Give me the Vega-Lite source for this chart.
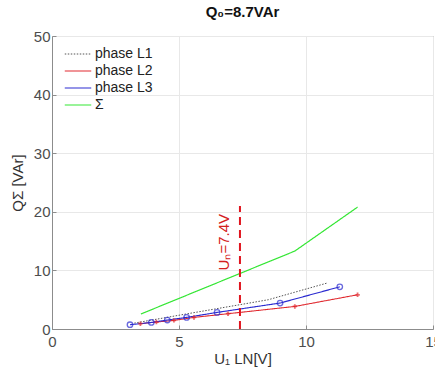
{
  "$schema": "https://vega.github.io/schema/vega-lite/v6.json",
  "width": 381,
  "height": 293,
  "autosize": {"type": "none"},
  "padding": {"left": 52, "top": 36, "right": 2, "bottom": 43},
  "background": "white",
  "config": {
    "font": "Liberation Sans",
    "view": {"stroke": "#8c8c8c", "strokeWidth": 1},
    "axis": {
      "domainColor": "#8c8c8c",
      "tickColor": "#8c8c8c",
      "gridColor": "#e8e8e8",
      "labelColor": "#4d4d4d",
      "labelFontSize": 15,
      "titleColor": "#333333",
      "titleFontSize": 15,
      "titleFontWeight": "normal",
      "tickSize": -4,
      "labelFlush": false
    }
  },
  "title": {"text": "Q₀=8.7VAr", "fontSize": 15, "fontWeight": "bold", "color": "#111111", "offset": 9},
  "datasets": {
    "lines": [
      {"u": 3.24, "q": 1.0, "s": "phase L1"},
      {"u": 5.0, "q": 2.35, "s": "phase L1"},
      {"u": 7.4, "q": 4.15, "s": "phase L1"},
      {"u": 8.52, "q": 5.0, "s": "phase L1"},
      {"u": 10.83, "q": 7.84, "s": "phase L1"},
      {"u": 3.48, "q": 0.9, "s": "phase L2"},
      {"u": 4.11, "q": 1.19, "s": "phase L2"},
      {"u": 4.8, "q": 1.47, "s": "phase L2"},
      {"u": 5.59, "q": 1.98, "s": "phase L2"},
      {"u": 6.93, "q": 2.61, "s": "phase L2"},
      {"u": 9.56, "q": 3.85, "s": "phase L2"},
      {"u": 12.03, "q": 5.84, "s": "phase L2"},
      {"u": 3.07, "q": 0.73, "s": "phase L3"},
      {"u": 3.91, "q": 1.12, "s": "phase L3"},
      {"u": 4.54, "q": 1.53, "s": "phase L3"},
      {"u": 5.3, "q": 1.98, "s": "phase L3"},
      {"u": 6.5, "q": 2.83, "s": "phase L3"},
      {"u": 8.98, "q": 4.43, "s": "phase L3"},
      {"u": 11.33, "q": 7.2, "s": "phase L3"},
      {"u": 3.5, "q": 2.56, "s": "Σ"},
      {"u": 7.34, "q": 9.37, "s": "Σ"},
      {"u": 9.56, "q": 13.3, "s": "Σ"},
      {"u": 12.03, "q": 20.8, "s": "Σ"}
    ],
    "rule": [{"u": 7.4, "q0": 0, "q1": 21}],
    "label": [{"u": 6.78, "q": 10, "t": "Uₙ=7.4V"}]
  },
  "layer": [
    {
      "data": {"name": "lines"},
      "mark": {"type": "line", "clip": true},
      "encoding": {
        "x": {"field": "u", "type": "quantitative", "scale": {"domain": [0, 15], "nice": false}, "axis": {"values": [0, 5, 10, 15], "title": "U₁ LN[V]", "titlePadding": 2, "labelPadding": 9}},
        "y": {"field": "q", "type": "quantitative", "scale": {"domain": [0, 50], "nice": false}, "axis": {"values": [0, 10, 20, 30, 40, 50], "title": "QΣ [VAr]", "titlePadding": 8, "labelPadding": 6}},
        "color": {"field": "s", "type": "nominal", "scale": {"domain": ["phase L1", "phase L2", "phase L3", "Σ"], "range": ["#555555", "#e0282e", "#2a2ad0", "#33e633"]},
          "legend": {"title": null, "orient": "none", "legendX": 12, "legendY": 10, "symbolType": "stroke", "symbolSize": 700, "clipHeight": 16, "labelFontSize": 14, "labelColor": "#222222", "rowPadding": 1, "symbolStrokeWidth": 1.5, "labelOffset": 3}},
        "strokeDash": {"field": "s", "type": "nominal", "scale": {"domain": ["phase L1", "phase L2", "phase L3", "Σ"], "range": [[1.5, 1.5], [1, 0], [1, 0], [1, 0]]}, "legend": null},
        "strokeWidth": {"field": "s", "type": "nominal", "scale": {"domain": ["phase L1", "phase L2", "phase L3", "Σ"], "range": [1, 1.2, 1.4, 2.8]}, "legend": null}
      }
    },
    {
      "data": {"name": "lines"},
      "transform": [{"filter": "datum.s === 'phase L2'"}],
      "mark": {"type": "point", "shape": "cross", "filled": true, "size": 20, "color": "#e0282e"},
      "encoding": {
        "x": {"field": "u", "type": "quantitative"},
        "y": {"field": "q", "type": "quantitative"}
      }
    },
    {
      "data": {"name": "lines"},
      "transform": [{"filter": "datum.s === 'phase L3'"}],
      "mark": {"type": "point", "shape": "circle", "filled": false, "size": 30, "strokeWidth": 1.3, "color": "#2a2ad0"},
      "encoding": {
        "x": {"field": "u", "type": "quantitative"},
        "y": {"field": "q", "type": "quantitative"}
      }
    },
    {
      "data": {"name": "rule"},
      "mark": {"type": "rule", "color": "#e0141e", "strokeWidth": 2, "strokeDash": [8, 5]},
      "encoding": {
        "x": {"field": "u", "type": "quantitative"},
        "y": {"field": "q0", "type": "quantitative"},
        "y2": {"field": "q1"}
      }
    },
    {
      "data": {"name": "label"},
      "mark": {"type": "text", "angle": 270, "align": "left", "baseline": "middle", "fontSize": 15, "color": "#d42020"},
      "encoding": {
        "x": {"field": "u", "type": "quantitative"},
        "y": {"field": "q", "type": "quantitative"},
        "text": {"field": "t"}
      }
    }
  ]
}
